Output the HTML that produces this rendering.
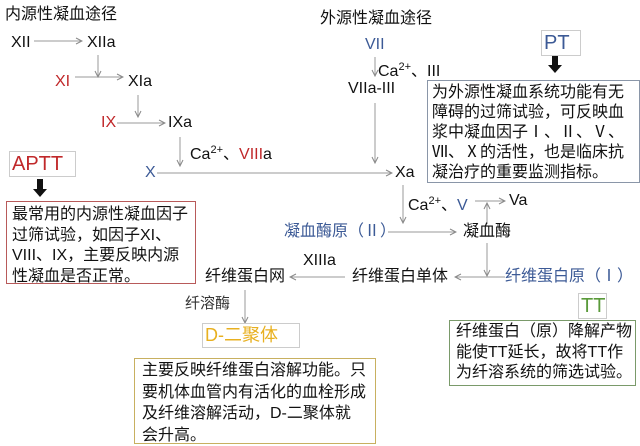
<!DOCTYPE html>
<html><head><meta charset="utf-8"><style>
body{margin:0;width:640px;height:442px;background:#fff;position:relative;overflow:hidden;font-family:"Liberation Sans","Noto Sans CJK SC",sans-serif;color:#111}
.t{position:absolute;white-space:nowrap;font-size:16px;line-height:18px}
.r{color:#c0282a}.b{color:#3c5a96}
.box{position:absolute;box-sizing:border-box;font-size:16px;line-height:20.5px;padding:2px 5px;background:#fff;white-space:nowrap}
sup{font-size:11px;vertical-align:6px}
</style></head><body>
<svg width="640" height="442" style="position:absolute;left:0;top:0">
<defs><marker id="a" markerWidth="8" markerHeight="8" refX="7" refY="4" orient="auto" markerUnits="userSpaceOnUse"><path d="M1,1 L7,4 L1,7" fill="none" stroke="#888" stroke-width="1"/></marker></defs>
<g stroke="#999" stroke-width="1" fill="none" marker-end="url(#a)">
<line x1="34" y1="41" x2="82" y2="41"/>
<line x1="98" y1="55" x2="98" y2="77"/>
<line x1="75" y1="77" x2="123" y2="77"/>
<line x1="138" y1="95" x2="138" y2="117"/>
<line x1="117" y1="123" x2="165" y2="123"/>
<line x1="180" y1="137" x2="180" y2="166"/>
<line x1="157" y1="173" x2="392" y2="173"/>
<line x1="375" y1="57" x2="375" y2="76"/>
<line x1="375" y1="103" x2="375" y2="163"/>
<line x1="403" y1="185" x2="403" y2="223"/>
<line x1="475" y1="201" x2="505" y2="201"/>
<line x1="487" y1="224" x2="487" y2="203"/>
<line x1="388" y1="232" x2="456" y2="232"/>
<line x1="487" y1="243" x2="487" y2="276"/>
<line x1="505" y1="277" x2="455" y2="277"/>
<line x1="345" y1="277" x2="290" y2="277"/>
<line x1="245" y1="290" x2="245" y2="323"/>
</g>
<g fill="#111">
<rect x="37" y="179" width="6" height="10"/><path d="M33,189 L47,189 L40,197Z"/>
<rect x="552" y="56" width="6" height="9"/><path d="M548,65 L562,65 L555,73Z"/>
</g>
</svg>
<div class="t" style="left:5px;top:6px">内源性凝血途径</div>
<div class="t" style="left:11px;top:34px">XII</div>
<div class="t" style="left:87px;top:34px">XIIa</div>
<div class="t r" style="left:55px;top:73px">XI</div>
<div class="t" style="left:128px;top:73px">XIa</div>
<div class="t r" style="left:101px;top:114px">IX</div>
<div class="t" style="left:168px;top:114px">IXa</div>
<div class="t" style="left:190px;top:141px">Ca<sup>2+</sup>、<span class="r">VIII</span>a</div>
<div class="t b" style="left:145px;top:164px">X</div>
<div class="box" style="left:9px;top:151px;width:67px;height:26px;border:1px solid #ccc;font-size:20px;line-height:22px;padding:1px 2px" ><span class="r">APTT</span></div>
<div class="box" style="left:6px;top:201px;width:190px;height:83px;border:1px solid #b85a5a;padding:3px 5px">最常用的内源性凝血因子<br>过筛试验，如因子XI、<br>VIII、IX，主要反映内源<br>性凝血是否正常。</div>
<div class="t" style="left:320px;top:10px">外源性凝血途径</div>
<div class="t b" style="left:365px;top:36px">VII</div>
<div class="t" style="left:378px;top:58px">Ca<sup>2+</sup>、III</div>
<div class="t" style="left:348px;top:80px">VIIa-III</div>
<div class="t" style="left:395px;top:164px">Xa</div>
<div class="box" style="left:541px;top:30px;width:40px;height:26px;border:1px solid #ccc;font-size:20px;line-height:22px;padding:1px 2px"><span class="b">PT</span></div>
<div class="box" style="left:427px;top:80px;width:213px;height:103px;border:1px solid #8a96a8;padding:2px 4px;line-height:20px">为外源性凝血系统功能有无<br>障碍的过筛试验，可反映血<br>浆中凝血因子Ⅰ、Ⅱ、Ⅴ、<br>Ⅶ、Ⅹ的活性，也是临床抗<br>凝治疗的重要监测指标。</div>
<div class="t" style="left:408px;top:192px">Ca<sup>2+</sup>、<span class="b">V</span></div>
<div class="t" style="left:509px;top:192px">Va</div>
<div class="t b" style="left:284px;top:223px">凝血酶原（Ⅱ）</div>
<div class="t" style="left:463px;top:223px">凝血酶</div>
<div class="t b" style="left:505px;top:268px">纤维蛋白原（Ⅰ）</div>
<div class="t" style="left:352px;top:268px">纤维蛋白单体</div>
<div class="t" style="left:303px;top:252px">XIIIa</div>
<div class="t" style="left:205px;top:268px">纤维蛋白网</div>
<div class="t" style="left:185px;top:295px;font-size:15px;color:#333">纤溶酶</div>
<div class="box" style="left:202px;top:323px;width:98px;height:25px;border:1px solid #ccc;font-size:18px;line-height:21px;padding:1px 2px;color:#e8b020">D-二聚体</div>
<div class="box" style="left:134px;top:358px;width:242px;height:86px;border:1px solid #c8b060;padding:1px 7px;line-height:21.5px">主要反映纤维蛋白溶解功能。只<br>要机体血管内有活化的血栓形成<br>及纤维溶解活动，D-二聚体就<br>会升高。</div>
<div class="box" style="left:578px;top:293px;width:29px;height:26px;border:1px solid #ccc;font-size:20px;line-height:22px;padding:1px 2px;color:#5a9a3a">TT</div>
<div class="box" style="left:449px;top:320px;width:187px;height:66px;border:1px solid #7a9a6a;padding:1px 6px">纤维蛋白（原）降解产物<br>能使TT延长，故将TT作<br>为纤溶系统的筛选试验。</div>
</body></html>
